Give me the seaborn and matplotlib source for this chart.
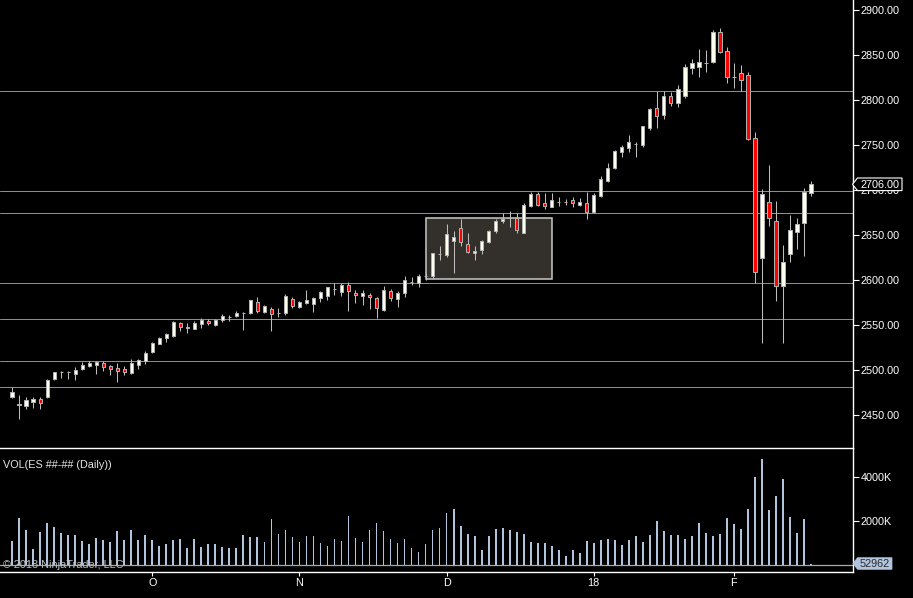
import numpy as np
import pandas as pd
import matplotlib
matplotlib.use("Agg")
import matplotlib.pyplot as plt
import seaborn as sns
from matplotlib.patches import Rectangle, Polygon

# ---------------- data (daily ES bars) ----------------
opens = [2470, 2461, 2460, 2464.5, 2467, 2470, 2489.3, 2497.3, 2497.3, 2495.6,
         2501, 2504.5, 2505.6, 2507.4, 2504.1, 2501.9, 2500.8, 2496.7, 2505.6, 2510,
         2520, 2529, 2535.6, 2537.8, 2551.5, 2546.7, 2545.6, 2551.2, 2554.5, 2550.1,
         2554.9, 2558.8, 2559.3, 2563.3, 2563, 2574.9, 2564.5, 2567.1, 2563.3, 2563.4,
         2578.2, 2570.1, 2574.5, 2573.4, 2580.1, 2582.3, 2590, 2586.7, 2593.8, 2584.9,
         2582.3, 2582.7, 2579.3, 2566.7, 2587.1, 2578.2, 2584.9, 2597.4, 2596.4, 2604.3,
         2604.5, 2628.5, 2627.8, 2643.4, 2657.1, 2639.3, 2629.3, 2633.4, 2642.3, 2654.1,
         2665.6, 2668.9, 2668.2, 2652.3, 2682.3, 2694.9, 2684.9, 2681.2, 2686.3, 2686.3,
         2688.2, 2683.4, 2684.9, 2675.2, 2693.4, 2709.7, 2724.2, 2742.3, 2746.7, 2750.4,
         2749.7, 2768.2, 2790.5, 2783.1, 2803.8, 2796.7, 2804.2, 2835.6, 2836.7, 2841.1,
         2842.3, 2874.9, 2853.8, 2824.8, 2829.3, 2827.1, 2757.1, 2623.7, 2686, 2664.8,
         2593.4, 2628.2, 2653.4, 2662.6, 2696]
highs = [2480.4, 2472, 2470, 2470, 2469.3, 2490, 2497.8, 2498.6, 2498.6, 2502.6,
         2508.6, 2509.3, 2510, 2509.3, 2504.9, 2507.4, 2504.1, 2511.9, 2511.9, 2520.8,
         2530.8, 2536.5, 2540.4, 2553.8, 2552.7, 2552.3, 2554.5, 2557.1, 2556, 2556.7,
         2561.5, 2561.2, 2564.9, 2564.1, 2577.8, 2580.8, 2572.3, 2569.3, 2568.2, 2583.8,
         2580.4, 2576.7, 2588.6, 2581.2, 2587.8, 2592.3, 2596, 2596, 2597.5, 2588.2,
         2588.2, 2584.9, 2581.2, 2593, 2589.3, 2587.1, 2604.1, 2603.4, 2606.4, 2607.1,
         2630, 2637.5, 2661.9, 2654.1, 2667.5, 2651.9, 2637.5, 2644.1, 2655.2, 2667.1,
         2673.8, 2676.4, 2673.8, 2684.9, 2697.8, 2697.1, 2696.7, 2696, 2691.5, 2689.7,
         2691.5, 2690.4, 2697.1, 2696, 2715.3, 2729.3, 2744.1, 2749.7, 2760.8, 2753,
         2770.8, 2790.5, 2810.1, 2810.1, 2808.6, 2816.4, 2839.3, 2845.3, 2856.4, 2855.3,
         2877.5, 2879.7, 2858.2, 2841.2, 2838.6, 2831.2, 2764.5, 2700.8, 2727.4, 2687.4,
         2638.5, 2671.9, 2668.2, 2702.3, 2710]
lows = [2469, 2445.2, 2456.3, 2457.5, 2456.3, 2468.6, 2488.6, 2491, 2489.7, 2488.6,
        2499.7, 2503.4, 2495.2, 2498.6, 2494.1, 2486.3, 2494.1, 2495.2, 2501.1, 2506.3,
        2519, 2528, 2531, 2536.7, 2543.4, 2540.8, 2544.9, 2546.7, 2549.3, 2549,
        2553.4, 2554.5, 2558.6, 2544.1, 2561.9, 2563.4, 2563.4, 2543, 2559, 2560.4,
        2568.2, 2569, 2573.4, 2564.1, 2575.2, 2577.8, 2583.4, 2581.9, 2565.6, 2573.8,
        2572.3, 2567.1, 2557.8, 2564.9, 2576.7, 2570.1, 2581.2, 2594.5, 2592.3, 2599.7,
        2600.8, 2621.9, 2624.9, 2607.8, 2637.5, 2630, 2621.9, 2628.6, 2640.4, 2652.3,
        2663.4, 2659, 2651.5, 2651.5, 2681.2, 2681.9, 2678.6, 2680.4, 2681.9, 2683,
        2681.2, 2682.3, 2667.5, 2674.1, 2692.3, 2709, 2723, 2736.8, 2742.3, 2736.8,
        2747.9, 2766.4, 2769, 2778.6, 2793, 2792.3, 2801.9, 2828.6, 2825.6, 2831.2,
        2841.2, 2852.3, 2819, 2813.4, 2810.1, 2755.2, 2596, 2529.3, 2660, 2576.7,
        2530, 2620, 2634.1, 2626.7, 2693]
closes = [2475.2, 2461.5, 2466, 2467, 2463.4, 2488.2, 2497, 2497.6, 2497.5, 2499.3,
          2505, 2507.4, 2508.6, 2503.4, 2501.1, 2498.9, 2497.8, 2507.4, 2510.8, 2518.2,
          2529.3, 2535.5, 2539.3, 2552.7, 2547.1, 2546.9, 2551.5, 2555.6, 2552.3, 2555.2,
          2559.3, 2559, 2563, 2563.5, 2577.1, 2565.6, 2570.4, 2561.5, 2563.5, 2581.9,
          2570.4, 2575.2, 2577.1, 2579.3, 2586, 2591.5, 2590.2, 2593.8, 2587.1, 2582.7,
          2584.9, 2580.4, 2568.2, 2588.2, 2579.3, 2584.9, 2599.3, 2597.6, 2603.8, 2604.6,
          2629.3, 2628.7, 2650.8, 2647.1, 2641.5, 2631.2, 2631.9, 2642.7, 2654.1, 2665.2,
          2667.8, 2669.1, 2655.6, 2683, 2695.2, 2683.4, 2681.5, 2688.2, 2686.5, 2686.5,
          2685.6, 2686.4, 2675.6, 2694.1, 2711.6, 2723.8, 2742.7, 2747.1, 2752.7, 2750.6,
          2770.8, 2789.7, 2782.3, 2804.2, 2796.7, 2811.6, 2836, 2840.8, 2841.9, 2841.3,
          2874.9, 2853.4, 2824.9, 2825, 2821.9, 2756.4, 2608.2, 2695.2, 2668.2, 2593.4,
          2619.7, 2654.8, 2661.9, 2697.4, 2706]
volumes_k = [1106, 2151, 1606, 742, 1515, 1924, 1742, 1470, 1379, 1379,
             1106, 970, 1242, 1151, 1061, 1561, 1151, 1606, 1151, 1379,
             1151, 879, 970, 1151, 1197, 788, 1197, 833, 970, 970,
             833, 788, 788, 1379, 1288, 1288, 1061, 2106, 1424, 1606,
             1288, 1061, 1333, 1333, 1015, 879, 1197, 1106, 2242, 1242,
             1061, 1606, 1924, 1561, 1197, 1015, 1197, 788, 606, 970,
             1606, 1697, 2379, 2560, 1788, 1424, 1333, 697, 1333, 1651,
             1697, 1606, 1515, 1424, 1061, 1015, 1015, 879, 697, 424,
             697, 561, 1106, 1015, 1151, 1197, 1151, 924, 1151, 1333,
             1061, 1379, 2015, 1561, 1379, 1379, 1197, 1333, 1924, 1470,
             1333, 1424, 2151, 1879, 1651, 2560, 4015, 4833, 2515, 3151,
             3924, 2197, 1470, 2106, 53]
month_ticks = [20, 41, 62, 83, 103]
month_labels = ["O", "N", "D", "18", "F"]
level_lines = [2809.7, 2698.2, 2673.8, 2596.3, 2556.3, 2509.7, 2480.4]
zone_x = [59.0, 77.1]
zone_y = [2600.4, 2668.2]
price_ticks = [2450, 2500, 2550, 2600, 2650, 2700, 2750, 2800, 2850, 2900]
vol_ticks_k = [2000, 4000]
last_price = 2706.00
last_volume = 52962

# ---------------- style ----------------
sns.set_theme(style="dark", rc={"axes.facecolor": "black", "figure.facecolor": "black"})
plt.rcParams["font.family"] = ["Liberation Sans", "DejaVu Sans"]

W, H = 913, 598
FS = 7.8
fig = plt.figure(figsize=(W / 100, H / 100), dpi=100)
fig.patch.set_facecolor("black")


def fx(px):
    return px / W


def fy(py):
    return 1 - py / H


SEP = 447.7
BOT = 571.7
RIGHT = 852.5
axp = fig.add_axes([0, fy(SEP), fx(RIGHT), 1 - fy(SEP)])
axv = fig.add_axes([0, fy(BOT), fx(RIGHT), fy(SEP) - fy(BOT)])
for ax in (axp, axv):
    ax.set_facecolor("black")
    ax.grid(False)

n = len(opens)
x = np.arange(n)
o = np.array(opens)
c = np.array(closes)

# ---------------- price panel ----------------
for lv in level_lines:
    ln = axp.axhline(lv, color="#6a8fe0", lw=0.72, zorder=1)
    ln.set_snap(True)

axp.add_patch(Rectangle((zone_x[0], zone_y[0]), zone_x[1] - zone_x[0], zone_y[1] - zone_y[0],
                        facecolor="#332f2a", edgecolor="#c8c8c8", lw=1.1, zorder=2))

axp.vlines(x, lows, highs, color="#bdbdbd", lw=0.75, zorder=3)
body_fc = ["#fffff0" if cc >= oo else "#ff0000" for oo, cc in zip(o, c)]
axp.bar(x, c - o, bottom=o, width=0.52, color=body_fc, edgecolor="#b4b4b4",
        linewidth=0.7, zorder=4)

axp.set_xlim(-1.757, 119.96)
axp.set_ylim(2413.3, 2910.8)
axp.set_xticks([])
axp.yaxis.tick_right()
axp.set_yticks(price_ticks)
axp.set_yticklabels([f"{t:.2f}" for t in price_ticks])
axp.tick_params(axis="y", which="major", right=True, left=False, labelright=True,
                labelleft=False, colors="white", length=4.3, width=0.8, pad=1.5,
                labelsize=FS, direction="out")
for s in ("top", "left", "bottom"):
    axp.spines[s].set_visible(False)
axp.spines["right"].set_color("white")
axp.spines["right"].set_linewidth(1.0)
axp.set_xlabel("")
axp.set_ylabel("")

# ---------------- volume panel ----------------
dfv = pd.DataFrame({"idx": x, "vol": volumes_k})
sns.barplot(data=dfv, x="idx", y="vol", native_scale=True, width=0.27, color="#b0c4de",
            saturation=1, errorbar=None, linewidth=0, ax=axv, zorder=3)
axv.axhline(0, color="#a8a8a8", lw=0.9, zorder=2)
axv.set_xlim(-1.757, 119.96)
axv.set_ylim(-305, 5332)
axv.yaxis.tick_right()
axv.set_yticks(vol_ticks_k)
axv.set_yticklabels([f"{t}K" for t in vol_ticks_k])
axv.set_xticks(month_ticks)
axv.set_xticklabels(month_labels)
axv.tick_params(axis="y", which="major", right=True, left=False, labelright=True,
                labelleft=False, colors="white", length=4.3, width=0.8, pad=1.5,
                labelsize=FS, direction="out")
axv.tick_params(axis="x", which="major", bottom=True, top=False, colors="white",
                length=3, width=0.8, pad=1.5, labelsize=FS, direction="out")
axv.spines["left"].set_visible(False)
for s in ("top", "bottom", "right"):
    axv.spines[s].set_color("white")
    axv.spines[s].set_linewidth(1.0)
axv.set_xlabel("")
axv.set_ylabel("")

fig.text(fx(3), fy(465.5), "VOL(ES ##-## (Daily))", color="#e6e6e6", fontsize=FS,
         ha="left", va="center")
fig.text(fx(3), fy(565.5), "\u00a9 2018 NinjaTrader, LLC", color="#bdbdbd", fontsize=FS,
         ha="left", va="center")

# ---------------- last value markers ----------------
def px_pts(pts):
    return [(fx(a), fy(b)) for a, b in pts]


price_y = 99.7 + (2800 - last_price) * 0.9
fig.add_artist(Polygon(px_pts([(852.5, price_y), (857.5, price_y - 6.3), (902, price_y - 6.3),
                                (902, price_y + 6.3), (857.5, price_y + 6.3)]),
                       closed=True, facecolor="black", edgecolor="white", lw=0.8,
                       transform=fig.transFigure, zorder=5))
fig.text(fx(880), fy(price_y + 0.3), f"{last_price:.2f}", color="white", fontsize=FS,
         ha="center", va="center", zorder=6)

vy = 563.5
fig.add_artist(Polygon(px_pts([(853, vy), (857.5, vy - 5.8), (892, vy - 5.8),
                                (892, vy + 5.8), (857.5, vy + 5.8)]),
                       closed=True, facecolor="#b0c4de", edgecolor="#b0c4de", lw=0.5,
                       transform=fig.transFigure, zorder=5))
fig.text(fx(874.5), fy(vy + 0.3), f"{last_volume}", color="#2a2a2a", fontsize=FS,
         ha="center", va="center", zorder=6)

fig.savefig("out.png", dpi=100, facecolor="black")
